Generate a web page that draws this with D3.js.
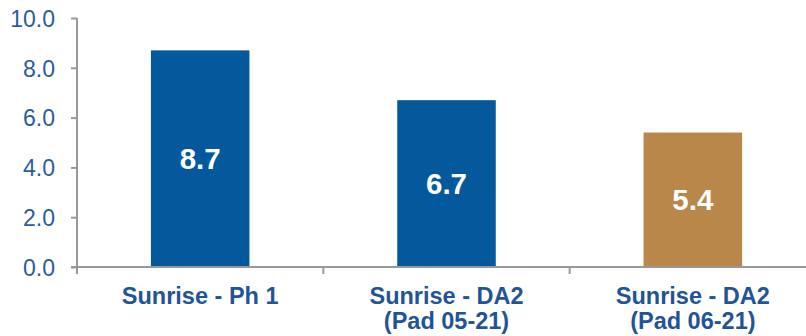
<!DOCTYPE html>
<html>
<head>
<meta charset="utf-8">
<script src="https://cdn.jsdelivr.net/npm/d3@7"></script>
<style>
  html, body { margin: 0; padding: 0; background: #ffffff; }
  svg { display: block; font-family: "Liberation Sans", Arial, sans-serif; }
</style>
</head>
<body>
<svg id="chart" width="806" height="336"></svg>
<script>
// Chart data
const categories = [["Sunrise - Ph 1"], ["Sunrise - DA2", "(Pad 05-21)"], ["Sunrise - DA2", "(Pad 06-21)"]];
const values = [8.7, 6.7, 5.4];
const barColors = ["#03599c", "#03599c", "#b9874a"];
const yTicks = [0, 2, 4, 6, 8, 10];

const svg = d3.select("#chart");
const plotLeft = 77, plotRight = 816, plotTop = 18, plotBottom = 267;

const x = d3.scaleBand()
  .domain(d3.range(values.length))
  .range([plotLeft, plotRight])
  .paddingInner(0.6)
  .paddingOuter(0.3);

const y = d3.scaleLinear().domain([0, 10]).range([plotBottom, plotTop]);

const axisColor = "#999999";
const textBlue = "#2a5d9c";

// Bars
svg.append("g").selectAll("rect")
  .data(values)
  .join("rect")
  .attr("x", (d, i) => x(i))
  .attr("y", d => y(d))
  .attr("width", x.bandwidth())
  .attr("height", d => y(0) - y(d))
  .attr("fill", (d, i) => barColors[i]);

// Value labels inside bars
svg.append("g").selectAll("text")
  .data(values)
  .join("text")
  .attr("x", (d, i) => x(i) + x.bandwidth() / 2)
  .attr("y", d => (y(d) + y(0)) / 2)
  .attr("dy", "0.36em")
  .attr("text-anchor", "middle")
  .attr("fill", "#ffffff")
  .attr("font-weight", "bold")
  .attr("font-size", "29.5px")
  .text(d => d.toFixed(1));

// Y axis
const yAxis = svg.append("g")
  .attr("transform", `translate(${plotLeft},0)`)
  .call(d3.axisLeft(y).tickValues(yTicks).tickFormat(d3.format(".1f")).tickSize(6).tickPadding(16));
yAxis.select(".domain").attr("stroke", axisColor).attr("stroke-width", 2)
  .attr("d", `M0,${plotTop}H0V${plotBottom}`);
yAxis.selectAll(".tick line").attr("stroke", axisColor).attr("stroke-width", 2);
yAxis.selectAll(".tick text")
  .attr("fill", textBlue)
  .attr("font-size", "23px")
  .attr("font-family", "'Liberation Sans', Arial, sans-serif")
  .attr("dy", "0.36em");

// X axis baseline with category separators
const xg = svg.append("g");
xg.append("line")
  .attr("x1", plotLeft - 6).attr("x2", plotRight)
  .attr("y1", plotBottom).attr("y2", plotBottom)
  .attr("stroke", axisColor).attr("stroke-width", 2);
const bounds = d3.range(values.length + 1).map(i => plotLeft + i * x.step());
xg.selectAll("line.sep")
  .data(bounds)
  .join("line")
  .attr("class", "sep")
  .attr("x1", d => d).attr("x2", d => d)
  .attr("y1", plotBottom).attr("y2", plotBottom + 7)
  .attr("stroke", axisColor).attr("stroke-width", 2);

// Category labels
const labels = xg.selectAll("text.cat")
  .data(categories)
  .join("text")
  .attr("class", "cat")
  .attr("text-anchor", "middle")
  .attr("fill", "#1f5597")
  .attr("font-weight", "bold")
  .attr("font-size", "23.5px")
  .attr("transform", (d, i) => `translate(${x(i) + x.bandwidth() / 2},304)`);
labels.selectAll("tspan")
  .data(d => d)
  .join("tspan")
  .attr("x", 0)
  .attr("y", (d, j) => j * 25)
  .text(d => d);
</script>
</body>
</html>
